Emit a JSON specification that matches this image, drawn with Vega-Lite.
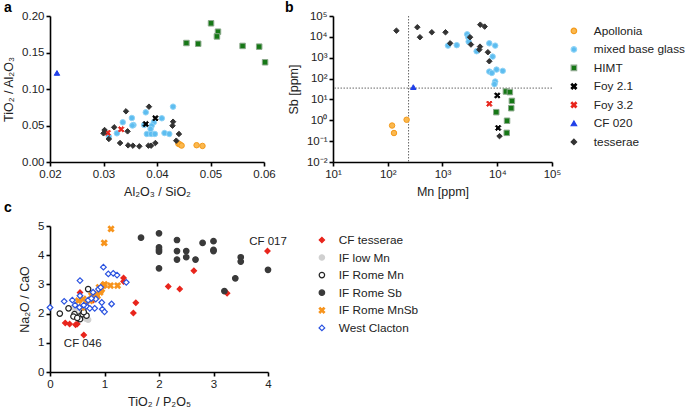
{
"$schema": "https://vega.github.io/schema/vega-lite/v6.json",
"padding": {"left": 2, "top": 1, "right": 0, "bottom": 0},
"bounds": "flush",
"columns": 2,
"spacing": {"row": 64, "column": 65},
"config": {
  "font": "Liberation Sans",
  "view": {"stroke": null},
  "axis": {"grid": false, "domainColor": "#000", "domainWidth": 1.6, "tickColor": "#000", "tickWidth": 1.6, "tickSize": 4, "labelFontSize": 11.5, "labelColor": "#222", "titleFontSize": 12.5, "titleFontWeight": "normal", "titleColor": "#222", "labelPadding": 2, "titlePadding": 6, "labelFlush": false, "labelOverlap": false},
  "legend": {"labelFontSize": 11.8, "labelColor": "#222", "padding": 0, "labelOffset": 14, "symbolSize": 30, "symbolStrokeWidth": 1.2},
  "title": {"fontSize": 14, "fontWeight": "bold", "color": "#000", "anchor": "start", "frame": "group"}
},
"datasets": {
  "a": [
    {"g":"Apollonia","x":0.0440,"y":0.025},{"g":"Apollonia","x":0.0443,"y":0.024},{"g":"Apollonia","x":0.0446,"y":0.0225},{"g":"Apollonia","x":0.0474,"y":0.023},{"g":"Apollonia","x":0.0485,"y":0.022},
    {"g":"mixed base glass","x":0.0430,"y":0.0758},{"g":"mixed base glass","x":0.0379,"y":0.068},{"g":"mixed base glass","x":0.0409,"y":0.0599},{"g":"mixed base glass","x":0.0353,"y":0.0603},{"g":"mixed base glass","x":0.0336,"y":0.0544},{"g":"mixed base glass","x":0.0356,"y":0.0507},{"g":"mixed base glass","x":0.0354,"y":0.050},{"g":"mixed base glass","x":0.0376,"y":0.0507},{"g":"mixed base glass","x":0.0394,"y":0.0544},{"g":"mixed base glass","x":0.0390,"y":0.0497},{"g":"mixed base glass","x":0.0388,"y":0.0452},{"g":"mixed base glass","x":0.0381,"y":0.0384},{"g":"mixed base glass","x":0.0389,"y":0.0384},{"g":"mixed base glass","x":0.0396,"y":0.0384},{"g":"mixed base glass","x":0.0414,"y":0.0397},{"g":"mixed base glass","x":0.0423,"y":0.0384},{"g":"mixed base glass","x":0.0325,"y":0.0393},{"g":"mixed base glass","x":0.0310,"y":0.0347},
    {"g":"HIMT","x":0.0455,"y":0.163},{"g":"HIMT","x":0.0477,"y":0.162},{"g":"HIMT","x":0.0501,"y":0.190},{"g":"HIMT","x":0.0514,"y":0.1785},{"g":"HIMT","x":0.0512,"y":0.172},{"g":"HIMT","x":0.0560,"y":0.159},{"g":"HIMT","x":0.0591,"y":0.158},{"g":"HIMT","x":0.0602,"y":0.1366},
    {"g":"Foy 2.1","x":0.0379,"y":0.052},{"g":"Foy 2.1","x":0.0397,"y":0.060},
    {"g":"Foy 3.2","x":0.0308,"y":0.040},{"g":"Foy 3.2","x":0.0333,"y":0.0448},
    {"g":"CF 020","x":0.0213,"y":0.122},
    {"g":"tesserae","x":0.0302,"y":0.0438},{"g":"tesserae","x":0.0300,"y":0.0393},{"g":"tesserae","x":0.0310,"y":0.0315},{"g":"tesserae","x":0.0320,"y":0.0475},{"g":"tesserae","x":0.0342,"y":0.0694},{"g":"tesserae","x":0.0345,"y":0.042},{"g":"tesserae","x":0.0331,"y":0.026},{"g":"tesserae","x":0.0346,"y":0.0228},{"g":"tesserae","x":0.0355,"y":0.0224},{"g":"tesserae","x":0.0367,"y":0.0215},{"g":"tesserae","x":0.0384,"y":0.0224},{"g":"tesserae","x":0.0389,"y":0.0224},{"g":"tesserae","x":0.0397,"y":0.026},{"g":"tesserae","x":0.0385,"y":0.0758},{"g":"tesserae","x":0.0430,"y":0.0552},{"g":"tesserae","x":0.0429,"y":0.0497},{"g":"tesserae","x":0.0441,"y":0.0384},{"g":"tesserae","x":0.0436,"y":0.0292}
  ],
  "b": [
    {"g":"Apollonia","x":120,"y":0.56},{"g":"Apollonia","x":130,"y":0.245},{"g":"Apollonia","x":221,"y":1.06},
    {"g":"mixed base glass","x":1260,"y":3800},{"g":"mixed base glass","x":1820,"y":4000},{"g":"mixed base glass","x":2820,"y":13200},{"g":"mixed base glass","x":2960,"y":9600},{"g":"mixed base glass","x":3000,"y":5880},{"g":"mixed base glass","x":4200,"y":2050},{"g":"mixed base glass","x":7160,"y":4900},{"g":"mixed base glass","x":9170,"y":3800},{"g":"mixed base glass","x":8230,"y":1130},{"g":"mixed base glass","x":7160,"y":216},{"g":"mixed base glass","x":7960,"y":186},{"g":"mixed base glass","x":9700,"y":270},{"g":"mixed base glass","x":12600,"y":234},{"g":"mixed base glass","x":9170,"y":72},{"g":"mixed base glass","x":8900,"y":54},
    {"g":"HIMT","x":14400,"y":24},{"g":"HIMT","x":17000,"y":22.4},{"g":"HIMT","x":18500,"y":8.5},{"g":"HIMT","x":18000,"y":3.8},{"g":"HIMT","x":9600,"y":2.45},{"g":"HIMT","x":15100,"y":0.95},{"g":"HIMT","x":14900,"y":0.25},
    {"g":"Foy 2.1","x":10000,"y":15.5},{"g":"Foy 2.1","x":10400,"y":0.43},
    {"g":"Foy 3.2","x":7160,"y":6.2},
    {"g":"CF 020","x":293,"y":39},
    {"g":"tesserae","x":144,"y":19800},{"g":"tesserae","x":347,"y":29000},{"g":"tesserae","x":387,"y":9600},{"g":"tesserae","x":638,"y":16600},{"g":"tesserae","x":1135,"y":16600},{"g":"tesserae","x":1380,"y":4900},{"g":"tesserae","x":3190,"y":9600},{"g":"tesserae","x":3310,"y":4270},{"g":"tesserae","x":4900,"y":38400},{"g":"tesserae","x":5890,"y":31000},{"g":"tesserae","x":4840,"y":3400},{"g":"tesserae","x":4700,"y":2440},{"g":"tesserae","x":6740,"y":1830},{"g":"tesserae","x":7160,"y":675},{"g":"tesserae","x":11000,"y":0.174}
  ],
  "ref": [{"mn": 240, "sb": 35}],
  "c": [
    {"g":"CF tesserae","x":3.99,"y":4.14},{"g":"CF tesserae","x":2.64,"y":3.47},{"g":"CF tesserae","x":2.17,"y":2.93},{"g":"CF tesserae","x":2.38,"y":2.84},{"g":"CF tesserae","x":3.25,"y":2.70},{"g":"CF tesserae","x":1.575,"y":2.37},{"g":"CF tesserae","x":1.53,"y":2.02},{"g":"CF tesserae","x":1.35,"y":3.22},{"g":"CF tesserae","x":1.35,"y":3.1},{"g":"CF tesserae","x":0.28,"y":1.68},{"g":"CF tesserae","x":0.36,"y":1.64},{"g":"CF tesserae","x":0.44,"y":1.9},{"g":"CF tesserae","x":0.47,"y":1.62},{"g":"CF tesserae","x":0.5,"y":1.64},{"g":"CF tesserae","x":0.62,"y":1.27},{"g":"CF tesserae","x":0.65,"y":1.93},{"g":"CF tesserae","x":0.55,"y":2.72},{"g":"CF tesserae","x":0.79,"y":2.46},
    {"g":"IF low Mn","x":0.43,"y":2.21},{"g":"IF low Mn","x":0.48,"y":2.18},{"g":"IF low Mn","x":0.66,"y":1.83},{"g":"IF low Mn","x":0.7,"y":1.79},{"g":"IF low Mn","x":0.58,"y":2.02},{"g":"IF low Mn","x":0.6,"y":2.1},
    {"g":"IF Rome Mn","x":0.18,"y":2.0},{"g":"IF Rome Mn","x":0.34,"y":2.18},{"g":"IF Rome Mn","x":0.45,"y":1.98},{"g":"IF Rome Mn","x":0.43,"y":1.9},{"g":"IF Rome Mn","x":0.54,"y":1.9},{"g":"IF Rome Mn","x":0.55,"y":1.81},{"g":"IF Rome Mn","x":0.6,"y":1.98},{"g":"IF Rome Mn","x":0.67,"y":1.93},{"g":"IF Rome Mn","x":0.70,"y":2.84},{"g":"IF Rome Mn","x":0.5,"y":1.85},{"g":"IF Rome Mn","x":0.62,"y":2.05},
    {"g":"IF Rome Sb","x":1.67,"y":4.6},{"g":"IF Rome Sb","x":2.0,"y":4.75},{"g":"IF Rome Sb","x":2.0,"y":4.27},{"g":"IF Rome Sb","x":2.0,"y":4.19},{"g":"IF Rome Sb","x":2.0,"y":4.12},{"g":"IF Rome Sb","x":2.0,"y":3.55},{"g":"IF Rome Sb","x":2.33,"y":4.52},{"g":"IF Rome Sb","x":2.33,"y":4.14},{"g":"IF Rome Sb","x":2.33,"y":3.85},{"g":"IF Rome Sb","x":2.5,"y":4.14},{"g":"IF Rome Sb","x":2.5,"y":3.93},{"g":"IF Rome Sb","x":2.67,"y":3.85},{"g":"IF Rome Sb","x":2.8,"y":4.42},{"g":"IF Rome Sb","x":3.0,"y":4.48},{"g":"IF Rome Sb","x":3.0,"y":4.18},{"g":"IF Rome Sb","x":3.0,"y":4.14},{"g":"IF Rome Sb","x":3.4,"y":3.21},{"g":"IF Rome Sb","x":3.2,"y":2.77},{"g":"IF Rome Sb","x":3.5,"y":3.93},{"g":"IF Rome Sb","x":3.5,"y":3.78},{"g":"IF Rome Sb","x":4.0,"y":3.5},
    {"g":"IF Rome MnSb","x":1.12,"y":4.9},{"g":"IF Rome MnSb","x":0.995,"y":4.42},{"g":"IF Rome MnSb","x":1.24,"y":2.96},{"g":"IF Rome MnSb","x":1.11,"y":2.96},{"g":"IF Rome MnSb","x":0.98,"y":2.96},{"g":"IF Rome MnSb","x":0.95,"y":2.84},{"g":"IF Rome MnSb","x":0.92,"y":2.73},{"g":"IF Rome MnSb","x":0.87,"y":2.61},{"g":"IF Rome MnSb","x":0.82,"y":2.56},{"g":"IF Rome MnSb","x":0.79,"y":2.5},{"g":"IF Rome MnSb","x":0.73,"y":2.44},{"g":"IF Rome MnSb","x":0.61,"y":2.5},{"g":"IF Rome MnSb","x":0.52,"y":2.44},{"g":"IF Rome MnSb","x":0.58,"y":2.21},{"g":"IF Rome MnSb","x":0.9,"y":2.9},{"g":"IF Rome MnSb","x":0.93,"y":2.8},{"g":"IF Rome MnSb","x":1.0,"y":3.0},{"g":"IF Rome MnSb","x":0.85,"y":2.68},{"g":"IF Rome MnSb","x":0.76,"y":2.62},{"g":"IF Rome MnSb","x":0.66,"y":2.4},
    {"g":"West Clacton","x":0.0,"y":2.21},{"g":"West Clacton","x":0.26,"y":2.42},{"g":"West Clacton","x":0.41,"y":2.46},{"g":"West Clacton","x":0.55,"y":2.61},{"g":"West Clacton","x":0.70,"y":2.46},{"g":"West Clacton","x":0.55,"y":3.13},{"g":"West Clacton","x":0.98,"y":3.59},{"g":"West Clacton","x":1.07,"y":3.36},{"g":"West Clacton","x":1.16,"y":3.38},{"g":"West Clacton","x":1.23,"y":3.32},{"g":"West Clacton","x":1.40,"y":3.07},{"g":"West Clacton","x":1.13,"y":2.33},{"g":"West Clacton","x":0.95,"y":2.38},{"g":"West Clacton","x":0.96,"y":2.15},{"g":"West Clacton","x":1.0,"y":2.06},{"g":"West Clacton","x":0.84,"y":2.5},{"g":"West Clacton","x":0.89,"y":2.84},{"g":"West Clacton","x":0.93,"y":2.9},{"g":"West Clacton","x":0.82,"y":2.18},{"g":"West Clacton","x":0.67,"y":2.25},{"g":"West Clacton","x":0.62,"y":2.29},{"g":"West Clacton","x":0.54,"y":2.21},{"g":"West Clacton","x":0.46,"y":2.29},{"g":"West Clacton","x":0.73,"y":2.18},{"g":"West Clacton","x":0.76,"y":2.52},{"g":"West Clacton","x":0.79,"y":2.73}
  ],
  "ann": [{"t":"CF 017","x":4.0,"y":4.45},{"t":"CF 046","x":0.6,"y":0.95}]
},
"concat": [
  {
    "width": 214, "height": 146,
    "title": {"text": "a", "dx": -46, "offset": -5},
    "data": {"name": "a"},
    "mark": {"type": "point", "filled": true, "strokeWidth": 1, "opacity": 1},
    "encoding": {
      "x": {"field": "x", "type": "quantitative", "scale": {"domain": [0.02, 0.06], "nice": false, "zero": false}, "axis": {"values": [0.02,0.03,0.04,0.05,0.06], "format": ".2f", "title": "Al₂O₃ / SiO₂"}},
      "y": {"field": "y", "type": "quantitative", "scale": {"domain": [0, 0.2], "nice": false}, "axis": {"values": [0,0.05,0.1,0.15,0.2], "format": ".2f", "title": "TiO₂ / Al₂O₃"}},
      "fill": {"field": "g", "type": "nominal", "scale": {"domain": ["Apollonia","mixed base glass","HIMT","Foy 2.1","Foy 3.2","CF 020","tesserae"], "range": ["#FBB84E","#5DBDF0","#167816","#000000","#E8251C","#1F3FE8","#333333"]}, "legend": null},
      "stroke": {"field": "g", "type": "nominal", "scale": {"domain": ["Apollonia","mixed base glass","HIMT","Foy 2.1","Foy 3.2","CF 020","tesserae"], "range": ["#F39A1B","#8FD3F6","#8AA88A","#000000","#E8251C","#1F3FE8","#333333"]}, "legend": null},
      "shape": {"field": "g", "type": "nominal", "scale": {"domain": ["Apollonia","mixed base glass","HIMT","Foy 2.1","Foy 3.2","CF 020","tesserae"], "range": ["circle","circle","square","M-1,-0.6L-0.6,-1L0,-0.4L0.6,-1L1,-0.6L0.4,0L1,0.6L0.6,1L0,0.4L-0.6,1L-1,0.6L-0.4,0Z","M-1,-0.6L-0.6,-1L0,-0.4L0.6,-1L1,-0.6L0.4,0L1,0.6L0.6,1L0,0.4L-0.6,1L-1,0.6L-0.4,0Z","triangle-up","diamond"]}, "legend": null},
      "size": {"value": 30}
    }
  },
  {
    "width": 219, "height": 146,
    "title": {"text": "b", "dx": -48, "offset": -5},
    "layer": [
      {
        "data": {"name": "ref"},
        "mark": {"type": "rule", "color": "#666", "strokeDash": [1.5, 1.5], "strokeWidth": 1},
        "encoding": {"x": {"field": "mn", "type": "quantitative", "scale": {"type": "log", "domain": [10, 100000], "nice": false}, "axis": {"values": [10,100,1000,10000,100000], "title": "Mn [ppm]", "labelExpr": "datum.value < 50 ? '10¹' : datum.value < 500 ? '10²' : datum.value < 5000 ? '10³' : datum.value < 50000 ? '10⁴' : '10⁵'"}}}
      },
      {
        "data": {"name": "ref"},
        "mark": {"type": "rule", "color": "#666", "strokeDash": [1.5, 1.5], "strokeWidth": 1},
        "encoding": {"y": {"field": "sb", "type": "quantitative", "scale": {"type": "log", "domain": [0.01, 100000], "nice": false}, "axis": {"values": [0.01,0.1,1,10,100,1000,10000,100000], "title": "Sb [ppm]", "labelExpr": "datum.value < 0.05 ? '10⁻²' : datum.value < 0.5 ? '10⁻¹' : datum.value < 5 ? '10⁰' : datum.value < 50 ? '10¹' : datum.value < 500 ? '10²' : datum.value < 5000 ? '10³' : datum.value < 50000 ? '10⁴' : '10⁵'"}}}
      },
      {
        "data": {"name": "b"},
        "mark": {"type": "point", "filled": true, "strokeWidth": 1, "opacity": 1},
        "encoding": {
          "x": {"field": "x", "type": "quantitative", "scale": {"type": "log", "domain": [10, 100000], "nice": false}, "axis": {"values": [10,100,1000,10000,100000], "title": "Mn [ppm]", "labelExpr": "datum.value < 50 ? '10¹' : datum.value < 500 ? '10²' : datum.value < 5000 ? '10³' : datum.value < 50000 ? '10⁴' : '10⁵'"}},
          "y": {"field": "y", "type": "quantitative", "scale": {"type": "log", "domain": [0.01, 100000], "nice": false}, "axis": {"values": [0.01,0.1,1,10,100,1000,10000,100000], "title": "Sb [ppm]", "labelExpr": "datum.value < 0.05 ? '10⁻²' : datum.value < 0.5 ? '10⁻¹' : datum.value < 5 ? '10⁰' : datum.value < 50 ? '10¹' : datum.value < 500 ? '10²' : datum.value < 5000 ? '10³' : datum.value < 50000 ? '10⁴' : '10⁵'"}},
          "fill": {"field": "g", "type": "nominal", "scale": {"domain": ["Apollonia","mixed base glass","HIMT","Foy 2.1","Foy 3.2","CF 020","tesserae"], "range": ["#FBB84E","#5DBDF0","#167816","#000000","#E8251C","#1F3FE8","#333333"]}, "legend": {"title": null, "orient": "none", "legendX": 235, "legendY": 9, "rowPadding": 5.5}},
          "stroke": {"field": "g", "type": "nominal", "scale": {"domain": ["Apollonia","mixed base glass","HIMT","Foy 2.1","Foy 3.2","CF 020","tesserae"], "range": ["#F39A1B","#8FD3F6","#8AA88A","#000000","#E8251C","#1F3FE8","#333333"]}, "legend": {"title": null, "orient": "none", "legendX": 235, "legendY": 9, "rowPadding": 5.5}},
          "shape": {"field": "g", "type": "nominal", "scale": {"domain": ["Apollonia","mixed base glass","HIMT","Foy 2.1","Foy 3.2","CF 020","tesserae"], "range": ["circle","circle","square","M-1,-0.6L-0.6,-1L0,-0.4L0.6,-1L1,-0.6L0.4,0L1,0.6L0.6,1L0,0.4L-0.6,1L-1,0.6L-0.4,0Z","M-1,-0.6L-0.6,-1L0,-0.4L0.6,-1L1,-0.6L0.4,0L1,0.6L0.6,1L0,0.4L-0.6,1L-1,0.6L-0.4,0Z","triangle-up","diamond"]}, "legend": {"title": null, "orient": "none", "legendX": 235, "legendY": 9, "rowPadding": 5.5}},
          "size": {"value": 30}
        }
      }
    ]
  },
  {
    "width": 218, "height": 146,
    "title": {"text": "c", "dx": -46, "offset": 5},
    "encoding": {
      "x": {"field": "x", "type": "quantitative", "scale": {"domain": [0, 4], "nice": false}, "axis": {"values": [0,1,2,3,4], "format": "d", "title": "TiO₂ / P₂O₅"}},
      "y": {"field": "y", "type": "quantitative", "scale": {"domain": [0, 5], "nice": false}, "axis": {"values": [0,1,2,3,4,5], "format": "d", "title": "Na₂O / CaO"}}
    },
    "layer": [
      {
        "data": {"name": "c"},
        "mark": {"type": "point", "filled": false, "strokeWidth": 1.2, "opacity": 1},
        "encoding": {
          "fill": {"field": "g", "type": "nominal", "scale": {"domain": ["CF tesserae","IF low Mn","IF Rome Mn","IF Rome Sb","IF Rome MnSb","West Clacton"], "range": ["#E8251C","#D0D0D0","#ffffff","#3A3A3A","#F7941D","#ffffff"]}, "legend": {"title": null, "orient": "none", "legendX": 266, "legendY": 8, "rowPadding": 4.6, "labelOffset": 11}},
          "stroke": {"field": "g", "type": "nominal", "scale": {"domain": ["CF tesserae","IF low Mn","IF Rome Mn","IF Rome Sb","IF Rome MnSb","West Clacton"], "range": ["#E8251C","#D0D0D0","#222222","#3A3A3A","#F7941D","#2952E0"]}, "legend": {"title": null, "orient": "none", "legendX": 266, "legendY": 8, "rowPadding": 4.6, "labelOffset": 11}},
          "shape": {"field": "g", "type": "nominal", "scale": {"domain": ["CF tesserae","IF low Mn","IF Rome Mn","IF Rome Sb","IF Rome MnSb","West Clacton"], "range": ["diamond","circle","circle","circle","M-1,-0.6L-0.6,-1L0,-0.4L0.6,-1L1,-0.6L0.4,0L1,0.6L0.6,1L0,0.4L-0.6,1L-1,0.6L-0.4,0Z","diamond"]}, "legend": {"title": null, "orient": "none", "legendX": 266, "legendY": 8, "rowPadding": 4.6, "labelOffset": 11}},
          "size": {"field": "g", "type": "nominal", "scale": {"domain": ["CF tesserae","IF low Mn","IF Rome Mn","IF Rome Sb","IF Rome MnSb","West Clacton"], "range": [28, 32, 30, 48, 30, 28]}, "legend": {"title": null, "orient": "none", "legendX": 266, "legendY": 8, "rowPadding": 4.6, "labelOffset": 11}}
        }
      },
      {
        "data": {"name": "ann"},
        "mark": {"type": "text", "fontSize": 11.5, "color": "#222", "align": "center", "baseline": "middle"},
        "encoding": {
          "text": {"field": "t"}
        }
      }
    ]
  }
],
"resolve": {"scale": {"fill": "independent", "stroke": "independent", "shape": "independent", "size": "independent"}, "legend": {"fill": "independent", "stroke": "independent", "shape": "independent", "size": "independent"}}
}
